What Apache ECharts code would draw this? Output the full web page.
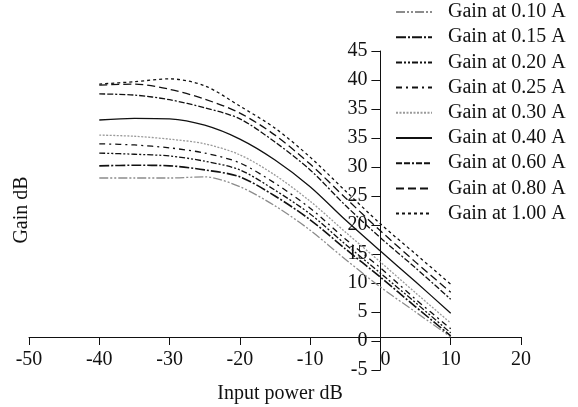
<!DOCTYPE html>
<html>
<head>
<meta charset="utf-8">
<script src="https://cdn.jsdelivr.net/npm/echarts@6/dist/echarts.min.js"></script>
<style>html,body{margin:0;padding:0;background:#fff}#c{width:578px;height:407px}</style>
</head>
<body>
<div id="c"></div>
<script>
// Input power (dB)
const inputPower = [-40, -35, -30, -25, -20, -15, -10, -5, 0, 5, 10];
// Gain series (axis units)
const gain010 = [28.1, 28.1, 28.1, 28.3, 26.6, 23.3, 19.1, 14.1, 9.3, 5.0, 0.7];
const gain015 = [30.2, 30.3, 30.2, 29.5, 28.3, 25.0, 20.9, 15.9, 11.0, 5.9, 0.9];
const gain020 = [32.4, 32.2, 31.9, 31.0, 29.5, 26.0, 21.9, 16.7, 11.7, 6.6, 1.4];
const gain025 = [34.0, 33.8, 33.3, 32.4, 30.7, 27.2, 22.9, 17.6, 12.6, 7.2, 2.1];
const gain030 = [35.5, 35.3, 34.8, 34.0, 32.1, 28.6, 24.1, 18.8, 13.6, 8.3, 3.1];
const gain040 = [38.1, 38.4, 38.3, 37.2, 34.8, 31.2, 26.6, 20.9, 15.5, 10.2, 4.8];
const gain060 = [42.6, 42.4, 41.6, 40.2, 38.3, 34.3, 29.5, 23.4, 17.8, 12.6, 7.2];
const gain080 = [44.1, 44.3, 43.4, 41.7, 39.3, 35.5, 30.5, 24.7, 19.0, 13.6, 8.4];
const gain100 = [44.3, 44.7, 45.2, 44.0, 40.5, 36.7, 31.7, 25.9, 20.2, 15.0, 9.8];
const seriesNames = ['Gain at 0.10 A','Gain at 0.15 A','Gain at 0.20 A','Gain at 0.25 A','Gain at 0.30 A','Gain at 0.40 A','Gain at 0.60 A','Gain at 0.80 A','Gain at 1.00 A'];
// y tick labels as printed in the figure (value -> label)
const yTickValues = [-5, 0, 5, 10, 15, 20, 25, 30, 35, 40, 45, 50];
const yTickLabels = ['-5', '0', '5', '10', '15', '20', '25', '30', '35', '35', '40', '45'];
const xTickValues = [-50, -40, -30, -20, -10, 0, 10, 20];

const allData = [gain010, gain015, gain020, gain025, gain030, gain040, gain060, gain080, gain100];
const styles = [
  {color:'#8c8c8c', type:[9,2,2,2,2,2]},
  {color:'#111', type:[10,2,2,2], width:1.6},
  {color:'#111', type:[6,2,2,2,2,2]},
  {color:'#111', type:[6,4,2,4]},
  {color:'#9a9a9a', type:[2,1.5]},
  {color:'#111', type:'solid'},
  {color:'#111', type:[6,2,6,2,2,2]},
  {color:'#111', type:[8,4]},
  {color:'#111', type:[3,3]}
];
const FONT = 'Liberation Serif';
const FS = 20;
const chart = echarts.init(document.getElementById('c'));
chart.setOption({
  animation: false,
  backgroundColor: '#fff',
  textStyle: {fontFamily: FONT, color: '#111'},
  grid: {left: 29, right: 57, top: 51, bottom: 37, outerBoundsMode: 'none', containLabel: false},
  legend: {
    orient: 'vertical', left: 395, top: 2, padding: 0, itemWidth: 36, itemHeight: 14, itemGap: 5.2,
    itemStyle: {opacity: 0},
    textStyle: {fontFamily: FONT, fontSize: FS, color: '#111', lineHeight: 20, padding: [0,0,0,11]},
    data: seriesNames
  },
  xAxis: {
    type: 'value', min: -50, max: 20, interval: 10, offset: -33,
    axisLine: {onZero: false, lineStyle: {color: '#111', width: 1}},
    axisTick: {length: 8, lineStyle: {color: '#111'}},
    splitLine: {show: false},
    axisLabel: {fontFamily: FONT, fontSize: FS, color: '#111', margin: 13,
      formatter: v => v === 0 ? '{z|0}' : String(v),
      rich: {z: {fontFamily: FONT, fontSize: FS, color: '#111', padding: [0,0,0,10]}}},
    name: 'Input power dB', nameLocation: 'middle', nameGap: 47,
    nameTextStyle: {fontFamily: FONT, fontSize: FS, color: '#111', padding: [0,0,0,10]}
  },
  yAxis: {
    type: 'value', min: -5, max: 50, interval: 5, position: 'left', offset: -351.4,
    axisLine: {onZero: false, lineStyle: {color: '#111', width: 1}},
    axisTick: {length: 9, lineStyle: {color: '#111'}},
    splitLine: {show: false},
    axisLabel: {fontFamily: FONT, fontSize: FS, color: '#111', margin: 13,
      formatter: v => { const i = yTickValues.indexOf(v); return i >= 0 ? yTickLabels[i] : ''; }}
  },
  graphic: [{
    type: 'text', x: 22, y: 210, rotation: Math.PI / 2,
    style: {text: 'Gain dB', fontFamily: FONT, fontSize: FS, fill: '#111', align: 'center', verticalAlign: 'middle'}
  }],
  series: allData.map((d, i) => ({
    name: seriesNames[i], type: 'line', symbol: 'none', smooth: 0.3,
    data: inputPower.map((x, j) => [x, d[j]]),
    lineStyle: {color: styles[i].color, type: styles[i].type, width: styles[i].width || 1.3},
    itemStyle: {color: styles[i].color}
  }))
});
</script>
</body>
</html>
